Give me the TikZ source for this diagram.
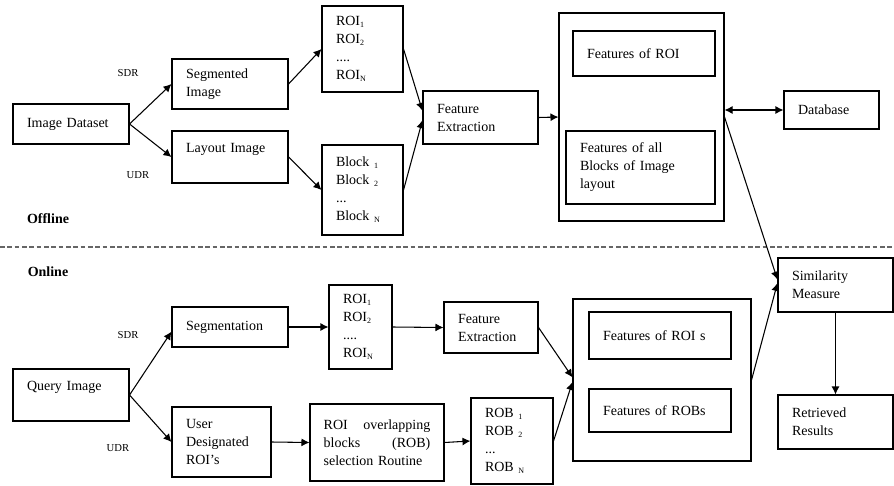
\documentclass[tikz,border=0pt]{standalone}
\usepackage{fontspec}
\setmainfont{Liberation Serif}
\usetikzlibrary{arrows.meta}

\newcommand{\sub}[1]{\raisebox{-0.3ex}{\fontsize{6}{6}\selectfont #1}}

\tikzset{
  box/.style={draw, line width=0.8pt, inner xsep=10.5pt, inner ysep=0pt, align=left,
    font=\fontsize{10.5}{13.5}\selectfont},
  frame/.style={draw, line width=0.8pt, inner sep=0pt},
  tag/.style={font=\fontsize{8}{9}\selectfont},
  head/.style={font=\fontsize{10.5}{13.5}\selectfont\bfseries},
  arr/.style={line width=0.8pt, -{Latex[length=6pt,width=6pt]}},
  both/.style={line width=0.8pt, {Latex[length=6pt,width=6pt]}-{Latex[length=6pt,width=6pt]}},
}

\begin{document}
\begin{tikzpicture}[x=0.75pt, y=-0.75pt]
  \useasboundingbox (0,0) rectangle (894,486);

  % offline part
  \node[box, text width=66pt, minimum height=30pt] (ds) at (71,124) {Image Dataset};
  \node[box, text width=66pt, minimum height=37.5pt] (seg) at (230,84) {Segmented\\Image};
  \node[box, text width=66pt, minimum height=39pt] (lay) at (230,157) {Layout Image\\\mbox{}};
  \node[box, text width=39.75pt, minimum height=64.5pt] (roi) at (362.5,49)
    {ROI\sub{1}\\ROI\sub{2}\\....\\ROI\sub{N}};
  \node[box, text width=39.75pt, minimum height=67.5pt] (blk) at (362.5,190)
    {Block \sub{1}\\Block \sub{2}\\...\\Block \sub{N}};
  \node[box, text width=65.25pt, minimum height=39.75pt] (fe) at (480.5,117.5) {Feature\\Extraction};
  \node[frame, minimum width=123.75pt, minimum height=156pt] (big) at (641.5,117) {};
  \node[box, text width=85.5pt, minimum height=33.75pt] (froi) at (644,53.5) {Features of ROI};
  \node[box, text width=90.75pt, minimum height=54.75pt] (fblk) at (640.5,167.5)
    {Features of all\\Blocks of Image\\layout};
  \node[box, text width=50.25pt, minimum height=28.5pt] (db) at (831.5,110) {Database};

  \node[tag] (sdr1) at (128,73) {SDR};
  \node[tag] (udr1) at (138,175) {UDR};
  \node[head] (off) at (48,219) {Offline};

  \draw[arr] (ds.east) -- (seg.west);
  \draw[arr] (ds.east) -- (lay.west);
  \draw[arr] (seg.east) -- (roi.west);
  \draw[arr] (lay.east) -- (blk.west);
  \draw[arr] (roi.east) -- ([yshift=5pt]fe.west);
  \draw[arr] (blk.east) -- ([yshift=-2pt]fe.west);
  \draw[arr] (fe.east) -- (big.west);
  \draw[both] (db.west -| big.east) -- (db.west);

  \draw[gray!80!black, line width=1pt, dash pattern=on 3.5pt off 2pt] (0,247) -- (894,247);

  % online part
  \node[head] (on) at (48,272) {Online};
  \node[box, text width=66pt, minimum height=30pt] (seg2) at (230,327) {Segmentation};
  \node[box, text width=66pt, minimum height=39pt] (qi) at (71,395) {Query Image\\\mbox{}};
  \node[box, text width=53.25pt, minimum height=52.5pt] (ud) at (221.5,442) {User\\Designated\\ROI's};
  \node[box, text width=26.25pt, minimum height=63pt] (roi2) at (360.5,327)
    {ROI\sub{1}\\ROI\sub{2}\\....\\ROI\sub{N}};
  \node[box, text width=49.5pt, minimum height=38.25pt] (fe2) at (491,327.5) {Feature\\Extraction};
  \node[box, text width=80pt, inner xsep=10.25pt, minimum height=57.75pt] (rtn) at (377,442.5)
    {ROI\hfill overlapping\\blocks\hfill (ROB)\\selection Routine};
  \node[box, text width=40.5pt, minimum height=64.5pt] (rob) at (512,441)
    {ROB \sub{1}\\ROB \sub{2}\\...\\ROB \sub{N}};
  \node[frame, minimum width=133.5pt, minimum height=121.5pt] (big2) at (662,380) {};
  \node[box, text width=85.5pt, minimum height=35.25pt] (froi2) at (660,335.5) {Features of ROI s};
  \node[box, text width=85.5pt, minimum height=32.25pt] (frob) at (660,410.5) {Features of ROBs};
  \node[box, text width=65.25pt, minimum height=40.5pt] (sim) at (835.5,285) {Similarity\\Measure};
  \node[box, text width=65.25pt, minimum height=40.5pt] (res) at (835.5,422) {Retrieved\\Results};

  \node[tag] (sdr2) at (128,335) {SDR};
  \node[tag] (udr2) at (118,448) {UDR};

  \draw[arr] (qi.east) -- ([yshift=-3.5pt]seg2.west);
  \draw[arr] (qi.east) -- (ud.west);
  \draw[arr] (seg2.east) -- (roi2.west);
  \draw[arr] (roi2.east) -- (fe2.west);
  \draw[arr] (ud.east) -- (rtn.west);
  \draw[arr] (rtn.east) -- (rob.west);
  \draw[arr] (fe2.east) -- ([yshift=2pt]big2.west);
  \draw[arr] (rob.east) -- ([yshift=-1.5pt]big2.west);
  \draw[arr] (big.east) -- ([yshift=4pt]sim.west);
  \draw[arr] (big2.east) -- ([yshift=1.5pt]sim.west);
  \draw[arr] (sim.south) -- (res.north);
\end{tikzpicture}
\end{document}
